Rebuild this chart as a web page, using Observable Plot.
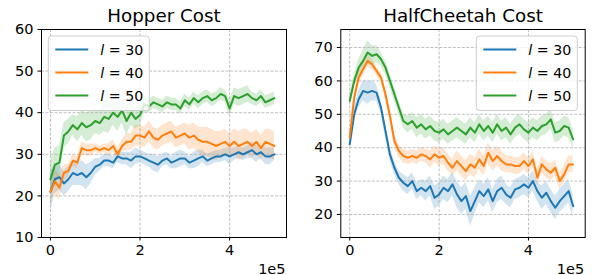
<!DOCTYPE html>
<html>
<head>
<meta charset="utf-8">
<script src="https://cdn.jsdelivr.net/npm/d3@7"></script>
<script src="https://cdn.jsdelivr.net/npm/@observablehq/plot@0.6"></script>
<style>
  html, body { margin: 0; padding: 0; background: #fff; }
  #wrap { display: flex; width: 592px; height: 275px; }
</style>
</head>
<body>
<div id="wrap"></div>
<script>
// ---- data (x in thousands of steps) ----
const stepsK = [0,10,20,30,40,50,60,70,80,90,100,110,120,130,140,150,160,170,180,190,200,210,220,230,240,250,260,270,280,290,300,310,320,330,340,350,360,370,380,390,400,410,420,430,440,450,460,470,480,490,500];
const seriesL = [30, 40, 50];
const colors = ["#1f77b4", "#ff7f0e", "#2ca02c"];
const panelTitles = ["Hopper Cost", "HalfCheetah Cost"];
const xTicks = [0, 200000, 400000];
const hopperYTicks = [10, 20, 30, 40, 50, 60];
const cheetahYTicks = [20, 30, 40, 50, 60, 70];

// Hopper means
const hopper30 = [21,24,24.5,23,24,25.5,25,25.5,24.5,25.5,27,27.5,28.5,28.5,28,29.5,29,29,28.5,29.5,29.5,29,28.5,28,27.5,28.5,29,28,28.5,29,29,28,28.5,29,29.5,28.5,29,29.5,29.5,30,29.5,30,30.5,30,30.5,31,30,30.5,29.5,29.5,30];
const hopper40 = [21,23.5,22,25.5,26,28.5,28,31.5,31,31,31.5,31,31.5,31,32,30,32,33,33,34.5,34.5,34,35.5,34,33.5,34.5,35,35.5,34,34.5,35,34,34.5,33.5,33,33,32.5,32,32.5,33,32,33,32,32.5,33,32,33,31.5,33,32.5,32];
const hopper50 = [24,27.5,28,34.5,35.5,37,36,37.5,36.5,37,38,37.5,39,38.5,40,39,40.5,38,40,38.5,39.5,42,41.5,42.5,42,41.5,42.5,42,42,41,43,42,43.5,42.5,43.5,44,43,43.5,44.5,44,41,44,43.5,44,44.5,43.5,43,44,42.5,43,43.5];
// Hopper band half-widths
const hopper30Sd = [5,3.5,3,3,3,3,2.5,3,3,2.5,2,1.5,1.5,1.5,1.5,1.5,1.5,1.5,2,2,1.5,1.5,1.5,2,2,1.5,1.5,1.5,2,2,1.5,1.5,2,2,1.5,1.5,1.5,1.5,1.5,1.5,2,1.5,1.5,1.5,1.5,2,2,1.5,2,2,1.5];
const hopper40Sd = [3,3,3,2,1.5,1.5,1.5,1.5,1.5,1.5,1,1,1,1.5,1.5,1.5,1.5,2,2,2.5,2.5,2.5,2.5,2.5,2.5,2.5,2.5,2.5,2.5,2.5,2.5,3,3,3,3.5,3.5,3.5,3.5,3,3,3,3,3.5,3.5,3,3,3,3,3,3.5,3.5];
const hopper50Sd = [4,4,4,3,3,2.5,3,3,3.5,3.5,3,3,3.5,3.5,3,3.5,3,3.5,3,2.5,2.5,2,1.5,1.5,1.5,1.5,1.5,1.5,1.5,1.5,1.5,1.5,1.5,1.5,1.5,1.5,1.5,1.5,1.5,1.5,2,2,2,2,2,1.5,1.5,1.5,1.5,1.5,1.5];

// HalfCheetah means
const cheetah30 = [41,50,54.5,57,56.5,57,56.5,52,45,38,34,31,29.5,28.5,30,27,28,27,28.5,25,26,28,27,29,26,24,25.5,21,24,27,25.5,27.5,24,27,28,26,25,27.5,28,29,28,30,27,25,26.5,24,22,24,25.5,27,22.5];
const cheetah40 = [43,55,61,63.5,66,65,63,61,56,49.5,42,39,37.5,37,37.5,37,38,37.5,36.5,38,37,37.5,35.5,34,36,34.5,33,35,34,36.5,34.5,38.5,36,37.5,36,35,35,34.5,34.5,36,34.5,36.5,31,35,33.5,32.5,34,30,32,35,35];
const cheetah50 = [54,60,64,66,68.5,67.5,68,66.5,64,60,56,52,48,47,48,46,47,45.5,46.5,45,44.5,45.5,44,45,46,45,44,46,44.5,47,45,46.5,44.5,47,45,46,44,46,47,45.5,44.5,46,45,46.5,47,48.5,44.5,45,46.5,46,42.5];
// HalfCheetah band half-widths
const cheetah30Sd = [2,2,2.5,3,3.5,3,2.5,2,2,2,2,2,2.5,2.5,2.5,2.5,2.5,3,3,3.5,3.5,3.5,3.5,3.5,4,4,4,4.5,4,3.5,3.5,3.5,3.5,3.5,3.5,3,3,3,3,3,3,3,3,3.5,3.5,3.5,3.5,3.5,3.5,3.5,3.5];
const cheetah40Sd = [2,2,2,2,2,1.5,1.5,1.5,1.5,1.5,2,2,2,2,2,2,2,2,2.5,2.5,2.5,2.5,2.5,2.5,3,3,3,3,3,3,3,3,3,3,3,2.5,2.5,2.5,2.5,2.5,2.5,2.5,2.5,2.5,2.5,2.5,2.5,2.5,2.5,2.5,2.5];
const cheetah50Sd = [2,2,2.5,3,3.5,3,2.5,2,2,2,2,2,2,2.5,2.5,3,3,3,3,3,3,3,3,3,3,3,3,3,3,3,3,3,3,3,3,3,3,3,3,3,3,3,3,3,3,3,3,3,3,3,3];

function rowsFor(means, sds) {
  const rows = [];
  means.forEach((m, si) => {
    m.forEach((v, i) => {
      rows.push({x: stepsK[i] * 1000, y: v, lo: v - sds[si][i], hi: v + sds[si][i], s: seriesL[si]});
    });
  });
  return rows;
}

const panels = [
  {title: panelTitles[0], rows: rowsFor([hopper30, hopper40, hopper50], [hopper30Sd, hopper40Sd, hopper50Sd]),
   yDomain: [10, 60], yTicks: hopperYTicks, mLeft: 41, mRight: 10, legendSide: "left"},
  {title: panelTitles[1], rows: rowsFor([cheetah30, cheetah40, cheetah50], [cheetah30Sd, cheetah40Sd, cheetah50Sd]),
   yDomain: [13.1, 75.4], yTicks: cheetahYTicks, mLeft: 44.3, mRight: 7.3, legendSide: "right"}
];

const W = 296, H = 275, MT = 29, MB = 38;
const FONT = "DejaVu Sans";
const wrap = document.getElementById("wrap");

panels.forEach(p => {
  const svg = Plot.plot({
    width: W, height: H,
    marginLeft: p.mLeft, marginRight: p.mRight, marginTop: MT, marginBottom: MB,
    style: {fontFamily: FONT, fontSize: "14.5px", color: "black", background: "white"},
    x: {domain: [-20000, 527000]},
    y: {domain: p.yDomain},
    color: {domain: seriesL, range: colors},
    marks: [
      Plot.areaY(p.rows, {x: "x", y1: "lo", y2: "hi", z: "s", fill: "s", fillOpacity: 0.2, curve: "linear"}),
      Plot.gridX(xTicks, {stroke: "#b0b0b0", strokeOpacity: 1, strokeWidth: 0.8, strokeDasharray: "3,1.5"}),
      Plot.gridY(p.yTicks, {stroke: "#b0b0b0", strokeOpacity: 1, strokeWidth: 0.8, strokeDasharray: "3,1.5"}),
      Plot.lineY(p.rows, {x: "x", y: "y", z: "s", stroke: "s", strokeWidth: 2, curve: "linear"}),
      Plot.frame({stroke: "black", strokeWidth: 1}),
      Plot.axisX(xTicks, {tickFormat: d => String(d / 1e5), tickSize: 3.5, tickPadding: 4, fontSize: 14.5, label: null}),
      Plot.axisY(p.yTicks, {tickSize: 3.5, tickPadding: 4.5, fontSize: 14.5, label: null}),
      Plot.text([p.title], {frameAnchor: "top", lineAnchor: "bottom", dy: -7.3, fontSize: 18.3, text: d => d}),
      Plot.text(["1e5"], {frameAnchor: "bottom-right", lineAnchor: "bottom", dy: 36, dx: -1, textAnchor: "end", fontSize: 14.5, text: d => d})
    ]
  });
  wrap.appendChild(svg);

  // legend
  const plotLeft = p.mLeft, plotRight = W - p.mRight;
  const bw = 101, bh = 74.5;
  const bx = p.legendSide === "left" ? plotLeft + 7.3 : plotRight - 7.4 - bw;
  const by = MT + 7;
  const g = d3.select(svg).append("g")
    .attr("font-family", FONT).attr("font-size", 14.2).attr("text-anchor", "start");
  g.append("rect").attr("x", bx).attr("y", by).attr("width", bw).attr("height", bh)
    .attr("rx", 3).attr("fill", "white").attr("fill-opacity", 0.8).attr("stroke", "#cccccc").attr("stroke-width", 1);
  seriesL.forEach((l, i) => {
    const yy = by + 13.5 + i * 23;
    g.append("line").attr("x1", bx + 7).attr("x2", bx + 40).attr("y1", yy).attr("y2", yy)
      .attr("stroke", colors[i]).attr("stroke-width", 2);
    const t = g.append("text").attr("x", bx + 52).attr("y", yy).attr("dy", "0.36em")
      .attr("fill", "black").attr("text-anchor", "start");
    t.append("tspan").attr("font-style", "italic").text("l");
    t.append("tspan").text(" = " + l);
  });
});
</script>
</body>
</html>
